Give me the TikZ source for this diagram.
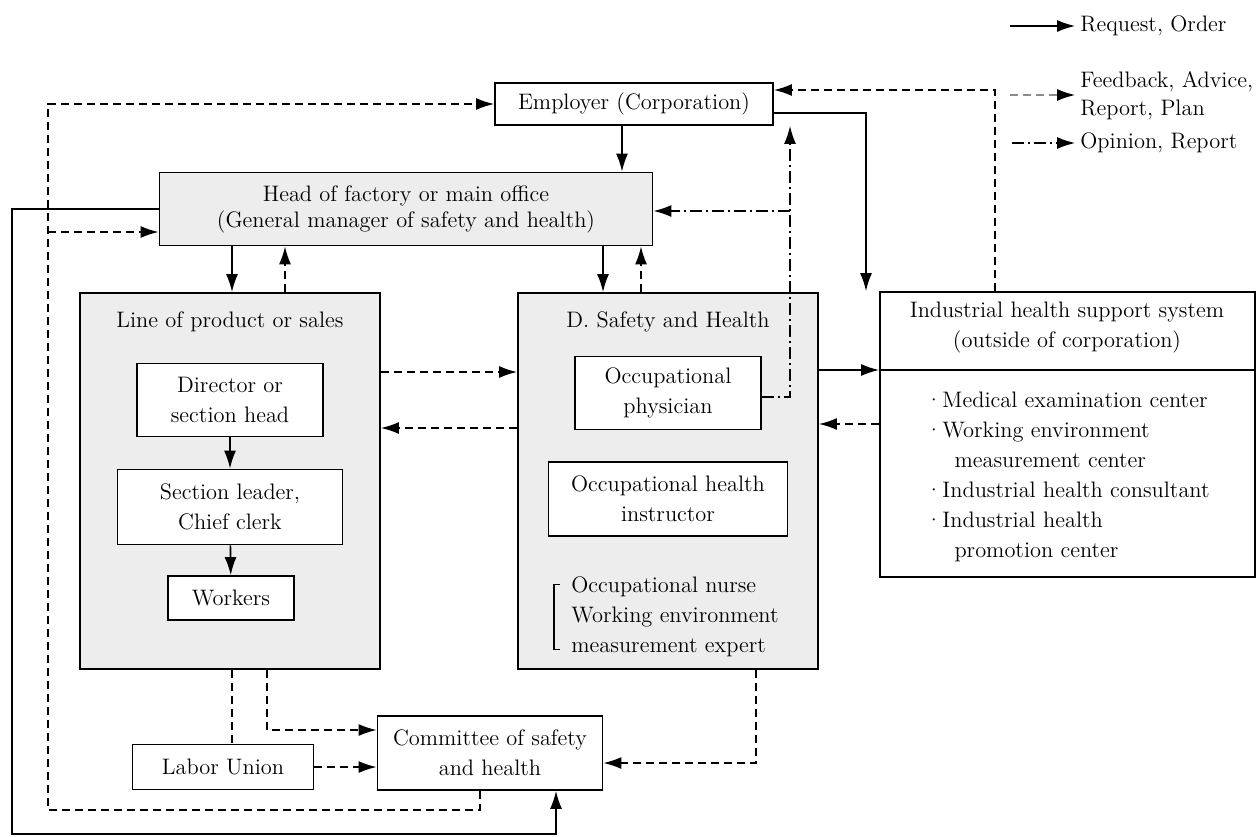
\documentclass[tikz,border=0pt]{standalone}
\usepackage{tikz}
\usetikzlibrary{arrows.meta}
\definecolor{panelgray}{gray}{0.93}
\definecolor{keygray}{gray}{0.55}

\begin{document}
\begin{tikzpicture}[x=0.5pt, y=-0.5pt, font=\fontsize{11.2}{15}\selectfont,
    office/.style ={rectangle, draw, line width=0.9pt, fill=white, align=center, inner sep=2pt},
    division/.style ={rectangle, draw, line width=0.9pt, fill=panelgray},
    plain/.style ={inner sep=0pt, align=center},
    reqline/.style ={line width=0.8pt, -{Latex[length=9pt,width=6pt]}},
    fbline/.style ={line width=0.8pt, dash pattern=on 4pt off 2.5pt, -{Latex[length=9pt,width=6pt]}},
    opline/.style ={line width=0.8pt, dash pattern=on 6pt off 2pt on 1pt off 2pt, -{Latex[length=9pt,width=6pt]}}]
   \useasboundingbox (0,0) rectangle (1257,836);

   % columns and rows used by the connectors
   \coordinate (xa) at (622,0);  \coordinate (xb) at (866,0);
   \coordinate (xc) at (995,0);  \coordinate (xd) at (48,0);
   \coordinate (xe) at (12,0);   \coordinate (xf) at (232,0);
   \coordinate (xg) at (285,0);  \coordinate (xh) at (603,0);
   \coordinate (xi) at (641,0);  \coordinate (xj) at (790,0);
   \coordinate (xk) at (267,0);  \coordinate (xl) at (756,0);
   \coordinate (xm) at (480,0);  \coordinate (xn) at (556,0);
   \coordinate (ya) at (0,90);   \coordinate (yb) at (0,113);
   \coordinate (yc) at (0,232);  \coordinate (yd) at (0,211);
   \coordinate (yf) at (0,372);  \coordinate (yg) at (0,428);
   \coordinate (yh) at (0,370);  \coordinate (yi) at (0,424);
   \coordinate (yj) at (0,397);  \coordinate (yk) at (0,730);
   \coordinate (ym) at (0,763);  \coordinate (yn) at (0,810);
   \coordinate (yo) at (0,834);  \coordinate (ydiv) at (0,370);

   % boxes
   \node[office, minimum width=139pt, minimum height=21pt] (emp) at (634,104) {Employer (Corporation)};
   \node[division, minimum width=246.5pt, minimum height=36.5pt, align=center, font=\fontsize{11.2}{13}\selectfont] (head) at (406,209)
        {Head of factory or main office\\(General manager of safety and health)};
   \node[division, minimum width=150pt, minimum height=188pt] (line) at (230,481) {};
   \node[division, minimum width=150pt, minimum height=188pt] (dsh) at (668,481) {};
   \node[plain] (linetitle) at (230,322) {Line of product or sales};
   \node[plain] (dshtitle) at (668,322) {D. Safety and Health};

   \node[office, minimum width=93pt, minimum height=36.5pt] (director) at (230,400) {Director or\\section head};
   \node[office, minimum width=112.5pt, minimum height=37.5pt] (leader) at (230,507) {Section leader,\\Chief clerk};
   \node[office, minimum width=63pt, minimum height=22pt] (workers) at (231,598) {Workers};

   \node[office, minimum width=93pt, minimum height=36.5pt] (physician) at (668,393) {Occupational\\physician};
   \node[office, minimum width=119.5pt, minimum height=37pt] (instructor) at (668,499) {Occupational health\\instructor};
   \node[plain, anchor=west, align=left] (nurse) at (571,617)
        {Occupational nurse\\Working environment\\measurement expert};
   \draw[line width=0.8pt] ([xshift=-5.5pt,yshift=-4pt]nurse.north west) -- ([xshift=-8.5pt,yshift=-4pt]nurse.north west)
        -- ([xshift=-8.5pt,yshift=4pt]nurse.south west) -- ([xshift=-5.5pt,yshift=4pt]nurse.south west);

   \node[office, minimum width=187.5pt, minimum height=142.5pt] (ihs) at (1067.5,434.5) {};
   \draw[line width=0.9pt] (ihs.west |- ydiv) -- (ihs.east |- ydiv);
   \node[plain] (ihstitle) at (1067,328) {Industrial health support system\\(outside of corporation)};
   \node[plain, anchor=west, align=left] (ihslist) at (925,477)
        {\textperiodcentered Medical examination center\\
         \textperiodcentered Working environment\\
         \hspace*{1.3em}measurement center\\
         \textperiodcentered Industrial health consultant\\
         \textperiodcentered Industrial health\\
         \hspace*{1.3em}promotion center};

   \node[office, minimum width=112.5pt, minimum height=37pt] (com) at (490,753) {Committee of safety\\and health};
   \node[office, minimum width=90.5pt, minimum height=22.5pt] (union) at (223,767) {Labor Union};

   % request, order
   \draw[reqline] (xa |- emp.south) -- (xa |- head.north);
   \draw[reqline] (emp.east |- yb) -| (xb |- ihs.north);
   \draw[reqline] (head.west) -| (xe |- yo) -| (xn |- com.south);
   \draw[reqline] (xf |- head.south) -- (xf |- line.north);
   \draw[reqline] (xh |- head.south) -- (xh |- dsh.north);
   \draw[reqline] (dsh.east |- yh) -- (ihs.west |- yh);
   \draw[reqline] (director) -- (leader);
   \draw[reqline] (leader) -- (workers);

   % feedback, advice, report, plan
   \draw[fbline] (xc |- ihs.north) |- (emp.east |- ya);
   \draw[fbline] (xm |- com.south) |- (xd |- yn) |- (emp.west);
   \draw[fbline] (xd |- yc) -- (head.west |- yc);
   \draw[fbline] (xg |- line.north) -- (xg |- head.south);
   \draw[fbline] (xi |- dsh.north) -- (xi |- head.south);
   \draw[fbline] (line.east |- yf) -- (dsh.west |- yf);
   \draw[fbline] (dsh.west |- yg) -- (line.east |- yg);
   \draw[fbline] (ihs.west |- yi) -- (dsh.east |- yi);
   \draw[fbline, -] (xf |- line.south) -- (xf |- union.north);
   \draw[fbline] (xk |- line.south) |- (com.west |- yk);
   \draw[fbline] (union.east) -- (com.west |- union.east);
   \draw[fbline] (xl |- dsh.south) |- (com.east |- ym);

   % opinion, report
   \draw[opline] (physician.east |- yj) -| (xj |- emp.south);
   \draw[opline] (xj |- yd) -- (head.east |- yd);

   % key
   \coordinate (k1a) at (1010,26);  \coordinate (k1b) at (1075,26);
   \coordinate (k2a) at (1010,95);  \coordinate (k2b) at (1075,95);
   \coordinate (k3a) at (1012,143); \coordinate (k3b) at (1075,143);
   \draw[reqline, line width=0.6pt] (k1a) -- (k1b);
   \draw[fbline, line width=0.6pt, draw=keygray, -{Latex[length=9pt,width=6pt,fill=black,color=black]}] (k2a) -- (k2b);
   \draw[opline, line width=0.6pt] (k3a) -- (k3b);
   \node[plain, anchor=west] (k1t) at (1080,26) {Request, Order};
   \node[plain, anchor=west, align=left, font=\fontsize{11.2}{14}\selectfont] (k2t) at (1080,96) {Feedback, Advice,\\Report, Plan};
   \node[plain, anchor=west] (k3t) at (1080,143) {Opinion, Report};

 \end{tikzpicture}
\end{document}
